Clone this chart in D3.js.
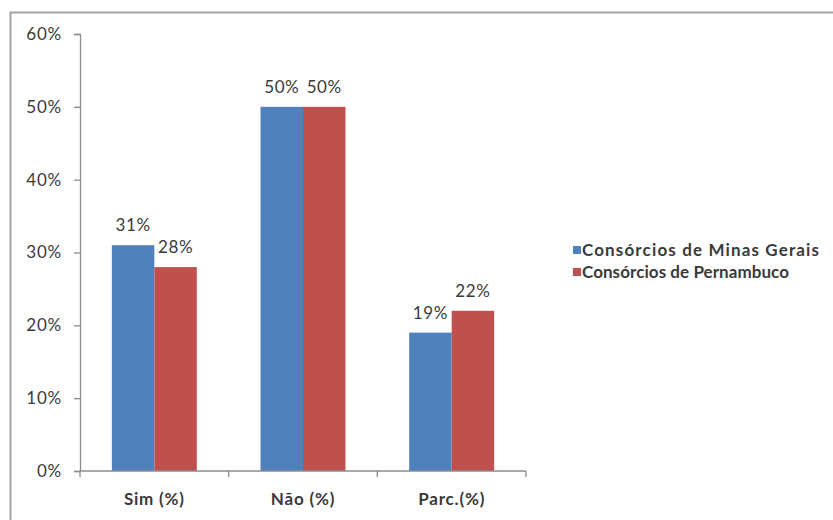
<!DOCTYPE html>
<html>
<head>
<meta charset="utf-8">
<script src="https://cdn.jsdelivr.net/npm/d3@7"></script>
<style>
  html, body { margin: 0; padding: 0; background: #fff; }
  svg { display: block; }
  text { font-family: Lato, "Open Sans", sans-serif; fill: #3a3a3a; }
</style>
</head>
<body>
<svg id="chart" width="833" height="520"></svg>
<script>
// Survey answers by category, percent of consortia
const categories = ["Sim (%)", "Não (%)", "Parc.(%)"];
const seriesNames = ["Consórcios de Minas Gerais", "Consórcios de Pernambuco"];
const minasGerais = [31, 50, 19];
const pernambuco = [28, 50, 22];
const yTicks = [0, 10, 20, 30, 40, 50, 60];
const colors = ["#4F81BD", "#C0504D"];

const svg = d3.select("#chart");

// outer chart frame (top and left edges visible)
svg.append("path")
  .attr("d", "M10.5,520 V12.5 H833")
  .attr("fill", "none")
  .attr("stroke", "#a3a3a3")
  .attr("stroke-width", 2);

const plot = { left: 80, right: 526, top: 34, bottom: 471 };

const x0 = d3.scaleBand()
  .domain(categories)
  .range([plot.left, plot.right])
  .paddingInner(0)
  .paddingOuter(0);

const x1 = d3.scaleBand()
  .domain(seriesNames)
  .range([0, x0.bandwidth()])
  .paddingOuter(0.75)
  .paddingInner(0);

const y = d3.scaleLinear().domain([0, 60]).range([plot.bottom, plot.top]);

const series = [minasGerais, pernambuco];

// bars
series.forEach((vals, si) => {
  svg.append("g").selectAll("rect")
    .data(categories)
    .join("rect")
    .attr("x", (c) => x0(c) + x1(seriesNames[si]))
    .attr("y", (c, i) => y(vals[i]))
    .attr("width", x1.bandwidth())
    .attr("height", (c, i) => y(0) - y(vals[i]))
    .attr("fill", colors[si]);

  // value labels above the bars
  svg.append("g").selectAll("text")
    .data(categories)
    .join("text")
    .attr("x", (c) => x0(c) + x1(seriesNames[si]) + x1.bandwidth() / 2)
    .attr("y", (c, i) => y(vals[i]) - 14)
    .attr("text-anchor", "middle")
    .attr("font-size", 17)
    .attr("letter-spacing", 0.6)
    .text((c, i) => vals[i] + "%");
});

// y axis
const yAxis = d3.axisLeft(y)
  .tickValues(yTicks)
  .tickSize(6)
  .tickPadding(12)
  .tickFormat((d) => d + "%");

const gy = svg.append("g")
  .attr("transform", `translate(${plot.left},0)`)
  .call(yAxis);
gy.select(".domain").attr("stroke", "#8c8c8c").attr("stroke-width", 1.3);
gy.selectAll(".tick line").attr("stroke", "#8c8c8c").attr("stroke-width", 1.3);
gy.selectAll(".tick text")
  .attr("font-size", 17)
  .attr("letter-spacing", 0.8)
  .attr("font-family", "Lato, 'Open Sans', sans-serif")
  .attr("fill", "#3a3a3a");

// x axis with ticks at category boundaries
const gx = svg.append("g")
  .attr("transform", `translate(0,${plot.bottom})`);
gx.append("line")
  .attr("x1", plot.left).attr("x2", plot.right)
  .attr("stroke", "#8c8c8c").attr("stroke-width", 1.3);
const bounds = categories.map((c) => x0(c)).concat([x0(categories[categories.length - 1]) + x0.bandwidth()]);
gx.selectAll("line.bound")
  .data(bounds)
  .join("line")
  .attr("class", "bound")
  .attr("x1", (d) => d).attr("x2", (d) => d)
  .attr("y1", 0).attr("y2", 6)
  .attr("stroke", "#8c8c8c").attr("stroke-width", 1.3);
gx.selectAll("text")
  .data(categories)
  .join("text")
  .attr("x", (c) => x0(c) + x0.bandwidth() / 2)
  .attr("y", 34)
  .attr("text-anchor", "middle")
  .attr("font-size", 17)
  .attr("font-weight", "bold")
  .attr("letter-spacing", 0.8)
  .text((c) => c);

// legend
const legendWidths = [237, 207];
const legend = svg.append("g").attr("transform", "translate(573,0)");
seriesNames.forEach((name, i) => {
  const cy = 250 + i * 22;
  legend.append("rect")
    .attr("x", 0).attr("y", cy - 4)
    .attr("width", 8).attr("height", 8)
    .attr("fill", colors[i]);
  legend.append("text")
    .attr("x", 9).attr("y", cy + 6)
    .attr("font-size", 17)
    .attr("font-weight", "bold")
    .attr("textLength", legendWidths[i])
    .attr("lengthAdjust", "spacing")
    .text(name);
});
</script>
</body>
</html>
